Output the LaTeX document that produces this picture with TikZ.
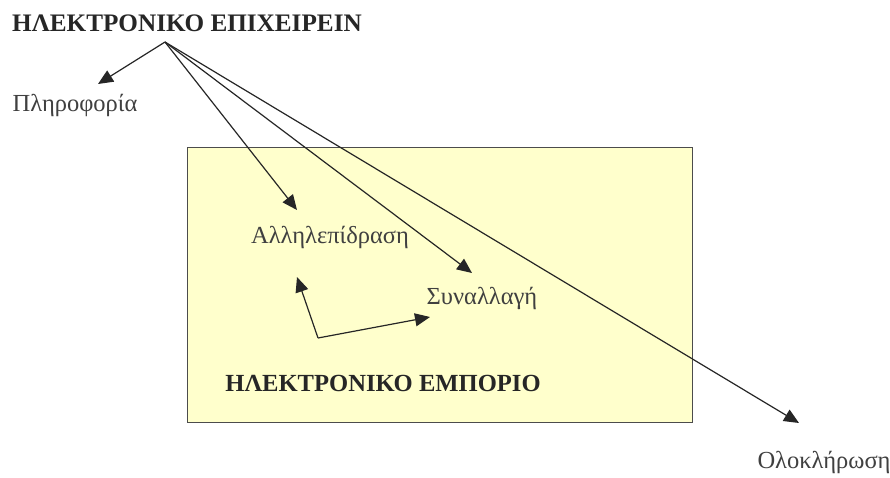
\documentclass[tikz,border=0pt]{standalone}
\usepackage{fontspec}
\setmainfont{Liberation Serif}
\usetikzlibrary{arrows.meta}
\begin{document}
\begin{tikzpicture}[x=1pt,y=-1pt,
  conn/.style={draw=black!85, line width=1.2pt, -{Triangle[length=15pt,width=13pt]}},
  boldlbl/.style={font=\fontsize{24.6}{26}\selectfont\bfseries, text=black!85, inner sep=0pt},
  lbl/.style={font=\fontsize{24.5}{26}\selectfont, text=black!75, inner sep=0pt},
  area/.style={draw=black!70, line width=0.9pt, fill={rgb,255:red,255;green,255;blue,204}}]
\useasboundingbox (0,0) rectangle (890,477);
\fill[white] (0,0) rectangle (890,477);
\node[area, minimum width=505pt, minimum height=275pt, inner sep=0pt] (ecom) at (439.5,284.5) {};
\node[boldlbl, font=\fontsize{25.2}{27}\selectfont\bfseries, anchor=west] (ebiz) at (12,23) {ΗΛΕΚΤΡΟΝΙΚΟ ΕΠΙΧΕΙΡΕΙΝ};
\node[lbl] (info) at (75,105) {Πληροφορία};
\node[lbl] (inter) at (330,237) {Αλληλεπίδραση};
\node[lbl] (trans) at (482,298) {Συναλλαγή};
\node[boldlbl] (ecomlbl) at (383,383) {ΗΛΕΚΤΡΟΝΙΚΟ ΕΜΠΟΡΙΟ};
\node[lbl] (integ) at (824,462) {Ολοκλήρωση};
\coordinate (o) at (165,42);
\coordinate (tinfo) at (98,84);
\coordinate (tinter) at (297,210);
\coordinate (ttrans) at (472,273);
\coordinate (tinteg) at (799,423);
\coordinate (corner) at (318,338);
\coordinate (binter) at (297,277);
\coordinate (btrans) at (430,317);
\draw[conn] (o) -- (tinfo);
\draw[conn] (o) -- (tinter);
\draw[conn] (o) -- (ttrans);
\draw[conn] (o) -- (tinteg);
\draw[conn] (corner) -- (binter);
\draw[conn] (corner) -- (btrans);
\end{tikzpicture}
\end{document}
